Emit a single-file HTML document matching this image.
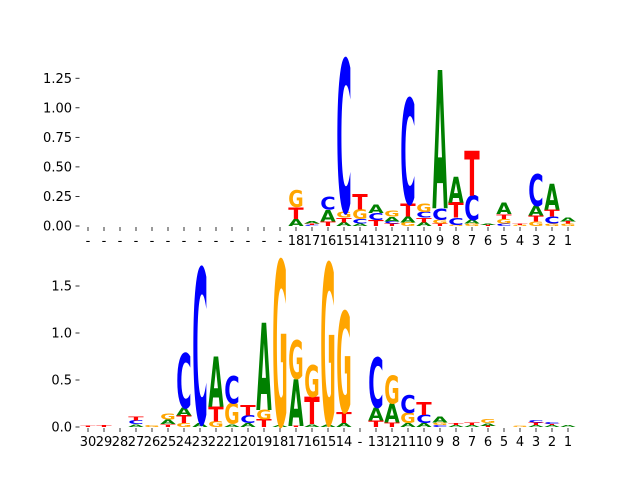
<!DOCTYPE html>
<html><head><meta charset="utf-8"><style>
html,body{margin:0;padding:0;background:#fff;}
svg{display:block;font-family:"DejaVu Sans","Liberation Sans",sans-serif;}
</style></head><body>
<svg id="chart" width="640" height="480" viewBox="0 0 640 480" xmlns="http://www.w3.org/2000/svg"></svg>
<script>
// ---- data ----
const topLabels = ["-","-","-","-","-","-","-","-","-","-","-","-","-","18","17","16","15","14","13","12","11","10","9","8","7","6","5","4","3","2","1"];
const topStacks = [[],[],[],[],[],[],[],[],[],[],[],[],[],
 [["A",0.06],["T",0.10],["G",0.14]],
 [["C",0.01],["T",0.01],["A",0.02]],
 [["T",0.04],["A",0.10],["C",0.11]],
 [["A",0.03],["T",0.04],["G",0.05],["C",1.29]],
 [["A",0.02],["C",0.04],["G",0.08],["T",0.13]],
 [["T",0.05],["C",0.06],["A",0.07]],
 [["T",0.02],["C",0.02],["A",0.04],["G",0.05]],
 [["G",0.03],["A",0.05],["T",0.11],["C",0.89]],
 [["A",0.03],["T",0.04],["C",0.05],["G",0.07]],
 [["T",0.02],["G",0.03],["C",0.10],["A",1.17]],
 [["G",0.01],["C",0.06],["T",0.13],["A",0.22]],
 [["G",0.02],["A",0.03],["C",0.21],["T",0.38]],
 [["T",0.01],["A",0.01]],
 [["C",0.02],["G",0.04],["T",0.04],["A",0.10]],
 [["G",0.01],["T",0.01]],
 [["G",0.04],["T",0.05],["A",0.08],["C",0.27]],
 [["G",0.02],["C",0.06],["T",0.06],["A",0.22]],
 [["G",0.02],["T",0.02],["A",0.03]]];
const topTicks = [0,0.25,0.5,0.75,1.0,1.25];
const topTickLabels = ["0.00","0.25","0.50","0.75","1.00","1.25"];

const botLabels = ["30","29","28","27","26","25","24","23","22","21","20","19","18","17","16","15","14","-","13","12","11","10","9","8","7","6","5","4","3","2","1"];
const botStacks = [
 [["T",0.01]],
 [["T",0.02]],
 [],
 [["A",0.03],["C",0.04],["T",0.04]],
 [["G",0.02]],
 [["T",0.03],["A",0.05],["G",0.06]],
 [["G",0.04],["T",0.08],["A",0.08],["C",0.58]],
 [["A",0.04],["C",1.65]],
 [["G",0.06],["T",0.16],["A",0.53]],
 [["A",0.03],["G",0.22],["C",0.29]],
 [["A",0.04],["C",0.08],["T",0.11]],
 [["T",0.08],["G",0.10],["A",0.93]],
 [["A",0.02],["G",1.75]],
 [["T",0.01],["A",0.50],["G",0.41]],
 [["A",0.03],["T",0.29],["G",0.34]],
 [["A",0.03],["G",1.71]],
 [["A",0.04],["T",0.12],["G",1.07]],
 [],
 [["T",0.07],["A",0.14],["C",0.53]],
 [["T",0.05],["A",0.20],["G",0.30]],
 [["A",0.04],["G",0.11],["C",0.19]],
 [["A",0.04],["C",0.09],["T",0.14]],
 [["C",0.02],["G",0.03],["A",0.06]],
 [["A",0.02],["T",0.02]],
 [["A",0.02],["T",0.03]],
 [["T",0.01],["A",0.03],["G",0.04]],
 [],
 [["G",0.01]],
 [["A",0.02],["T",0.03],["C",0.03]],
 [["A",0.02],["T",0.01],["C",0.02]],
 [["A",0.02]]];
const botTicks = [0,0.5,1.0,1.5];
const botTickLabels = ["0.0","0.5","1.0","1.5"];

const colors = {A:"#008000",C:"#0000ff",G:"#ffa500",T:"#ff0000"};
const NS = "http://www.w3.org/2000/svg";
const svg = document.getElementById('chart');

function mk(tag, attrs, parent){
  const e = document.createElementNS(NS, tag);
  for (const k in attrs) e.setAttribute(k, attrs[k]);
  (parent||svg).appendChild(e);
  return e;
}

function drawPanel(name, labels, stacks, ticks, tickLabels, y0, pxPerUnit){
  const g = mk('g', {});
  
  
  const x0 = 80, step = 496/31;
  const xs = i => x0 + (i + 0.5) * step;
  const ys = v => y0 - v * pxPerUnit;
  // y ticks
  ticks.forEach((t, k) => {
    const y = ys(t);
    const tk = mk('line', {x1:75.5, x2:79.5, y1:y, y2:y, stroke:'#000', 'stroke-width':0.8}, g);
    
    
    const tl = mk('text', {x:72, y:y+4.5, 'font-size':13, 'text-anchor':'end', fill:'#000'}, g);
    
    
    tl.textContent = tickLabels[k];
  });
  // x ticks + labels
  labels.forEach((lab, i) => {
    const x = xs(i);
    const tk = mk('line', {x1:x, x2:x, y1:y0+1, y2:y0+5, stroke:'#000', 'stroke-width':0.8}, g);
    
    
    const tl = mk('text', {x:x, y:y0+19, 'font-size':13, 'text-anchor':'middle', fill:'#000'}, g);
    
    
    tl.textContent = lab;
  });
  // letters
  const capH = 72.9; // DejaVu Sans Bold cap height at font-size 100
  stacks.forEach((stack, i) => {
    let base = 0;
    const x = xs(i) - step/2 + 0.3;
    stack.forEach(([letter, h]) => {
      const yb = ys(base);
      const hp = h * pxPerUnit;
      base += h;
      if (hp <= 0) return;
      const t = mk('text', {
        transform: `translate(${x},${yb}) scale(1,${hp/capH})`,
        'font-size':100, 'font-weight':'bold', fill:colors[letter],
        textLength: step - 0.6, lengthAdjust:'spacingAndGlyphs',
        x:0, y:0
      }, g);
      
      
      t.textContent = letter;
    });
  });
}

drawPanel('top-logo-panel', topLabels, topStacks, topTicks, topTickLabels, 226, 118.2);
drawPanel('bottom-logo-panel', botLabels, botStacks, botTicks, botTickLabels, 427, 94);
</script>
</body></html>
